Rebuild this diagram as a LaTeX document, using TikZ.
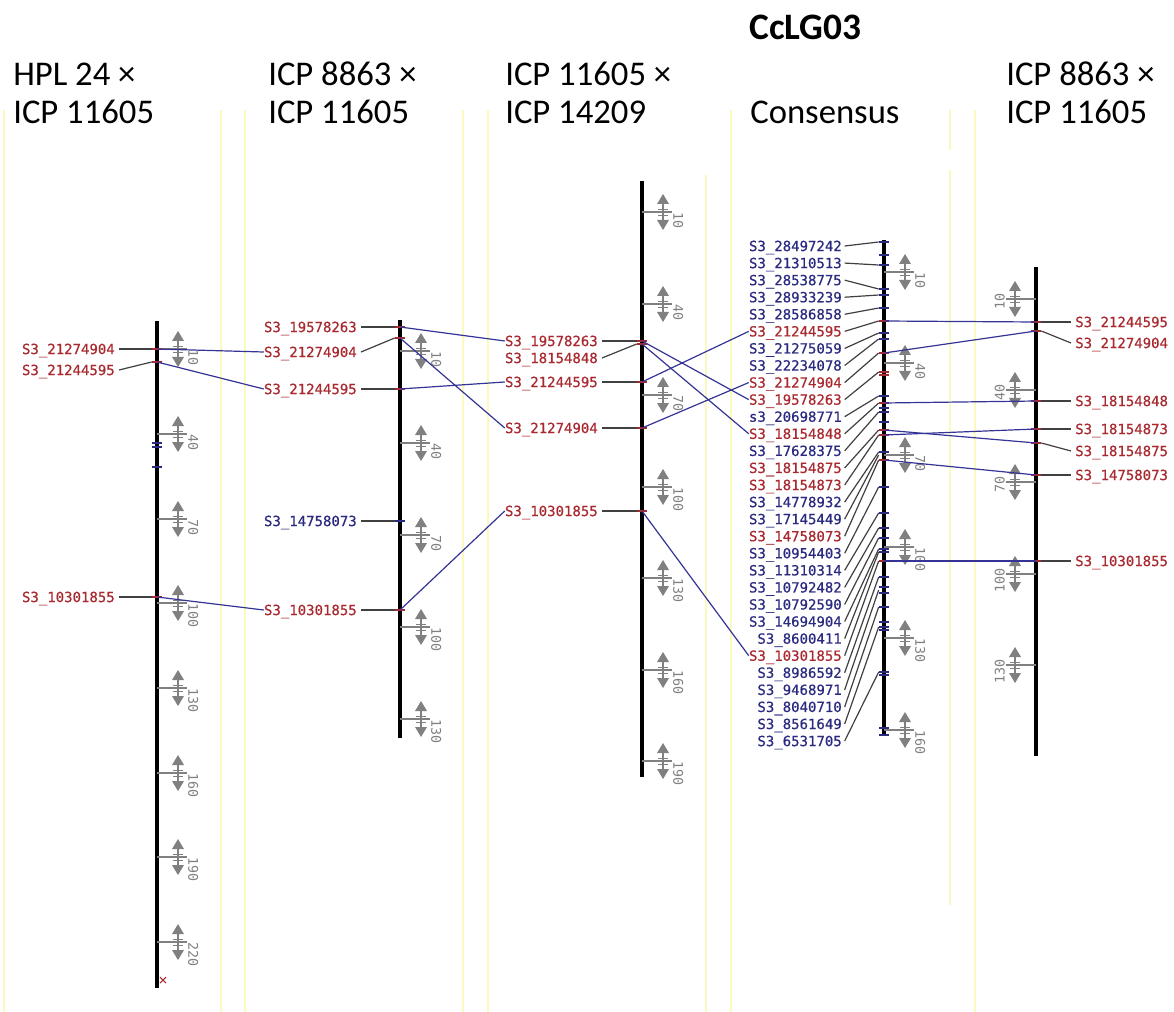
\documentclass[tikz,border=0pt]{standalone}
\usepackage{fontspec}
\setmainfont{Carlito}
\newfontfamily\mapfont[FakeBold=0.6]{DejaVu Sans Mono}
\newfontfamily\cmfont{DejaVu Sans Mono}
\usetikzlibrary{calc}
\definecolor{mkred}{RGB}{168,42,48}
\definecolor{mkblue}{RGB}{42,42,128}
\definecolor{linkblue}{RGB}{52,52,150}
\definecolor{gridyellow}{RGB}{250,250,190}
\definecolor{scalegray}{RGB}{128,128,128}

% scale mark: name, chromosome x, y, label, side (1 = right, -1 = left)
\newcommand{\cmscale}[5]{%
  \begin{scope}[shift={(#2,#3)},xscale=#5]
    \draw[scalegray,line width=1.1pt] (0,0) -- (30,0);
    \fill[scalegray] (15,-8) -- (27,-8) -- (21,-18) -- cycle;
    \fill[scalegray] (15,8) -- (27,8) -- (21,18) -- cycle;
    \draw[scalegray,line width=1.4pt] (21,-8) -- (21,8);
    \draw[scalegray,line width=0.6pt] (16,-3) -- (26,-3) (16,3) -- (26,3);
  \end{scope}
  \ifnum#5>0
    \node[cmlabel,rotate=-90,anchor=south west] (#1) at (#2+31,#3) {#4};
  \else
    \node[cmlabel,rotate=90,anchor=south east] (#1) at (#2-31,#3-6) {#4};
  \fi}

\begin{document}
\begin{tikzpicture}[x=0.75pt,y=-0.75pt,
   mklabel/.style={font=\mapfont\fontsize{10.5}{12}\selectfont,inner sep=0pt,
                   text height=7.6pt,text depth=0pt},
   cmlabel/.style={font=\cmfont\fontsize{10}{10}\selectfont,text=scalegray,inner sep=0pt},
   head/.style={font=\fontsize{26}{30}\selectfont,inner sep=0pt,anchor=base west},
   leader/.style={draw=black!75,line width=0.9pt},
   link/.style={draw=linkblue,line width=0.9pt},
   chrom/.style={draw=black,line width=2.3pt},
   mktick/.style={line width=1.5pt},
   gridline/.style={draw=gridyellow,line width=1.5pt}]
  \useasboundingbox (0,0) rectangle (1174,1012);

  % yellow column guides
  \foreach \x in {4,221,245,463,488,731,975}
    \draw[gridline] (\x,110) -- (\x,1012);
  \draw[gridline] (706,175) -- (706,1012);
  \draw[gridline] (950,110) -- (950,150) (950,170) -- (950,905);

  % headers
  \node[head,font=\bfseries\fontsize{28}{30}\selectfont] (hd-lg) at (749,40) {CcLG03};
  \node[head] (hd-hpl1) at (13,86)   {HPL 24 ×};
  \node[head] (hd-hpl2) at (13,124)  {ICP 11605};
  \node[head] (hd-ia1)  at (268,86)  {ICP 8863 ×};
  \node[head] (hd-ia2)  at (268,124) {ICP 11605};
  \node[head] (hd-ib1)  at (505,86)  {ICP 11605 ×};
  \node[head] (hd-ib2)  at (505,124) {ICP 14209};
  \node[head] (hd-cs)   at (750,124) {Consensus};
  \node[head] (hd-ic1)  at (1006,86) {ICP 8863 ×};
  \node[head] (hd-ic2)  at (1006,124){ICP 11605};

  % HPL 24 x ICP 11605
  \draw[chrom] (157,321) -- (157,988);
  \foreach \n/\cm/\y in {a/10/349,b/40/434,c/70/519,d/100/603,e/130/688,f/160/773,g/190/857,h/220/942}
    \cmscale{hpl-s\n}{157}{\y}{\cm}{1};
  \foreach \y in {443,447,467}
    \draw[mktick,mkblue] (152,\y) -- (162,\y);
  \draw[mkred,line width=0.8pt] (160,977) -- (166,983) (160,983) -- (166,977);
  \foreach \id/\ly/\my/\col in {21274904/349/349/mkred,21244595/370/362/mkred,10301855/597/597/mkred}{
    \coordinate (hpl-m\id) at (157,\my);
    \node[mklabel,text=\col,anchor=east] (hpl-\id) at (115,\ly) {S3\_\id};
    \draw[leader] ([xshift=3pt]hpl-\id.east) -- ([xshift=-4pt]hpl-m\id);
    \draw[mktick,\col] ([xshift=-4pt]hpl-m\id) -- ([xshift=4pt]hpl-m\id);
  }

  % ICP 8863 x ICP 11605
  \draw[chrom] (400,320) -- (400,738);
  \foreach \n/\cm/\y in {a/10/351,b/40/443,c/70/535,d/100/627,e/130/719}
    \cmscale{ia-s\n}{400}{\y}{\cm}{1};
  \foreach \id/\ly/\my/\col in {19578263/327/327/mkred,21274904/352/338/mkred,21244595/389/389/mkred,
                                14758073/521/521/mkblue,10301855/610/610/mkred}{
    \coordinate (ia-m\id) at (400,\my);
    \node[mklabel,text=\col,anchor=east] (ia-\id) at (357,\ly) {S3\_\id};
    \draw[leader] ([xshift=3pt]ia-\id.east) -- ([xshift=-4pt]ia-m\id);
    \draw[mktick,\col] ([xshift=-4pt]ia-m\id) -- ([xshift=4pt]ia-m\id);
  }

  % ICP 11605 x ICP 14209
  \draw[chrom] (642,181) -- (642,777);
  \foreach \n/\cm/\y in {a/10/212,b/40/304,c/70/395,d/100/487,e/130/578,f/160/670,g/190/761}
    \cmscale{ib-s\n}{642}{\y}{\cm}{1};
  \foreach \id/\ly/\my/\col in {19578263/341/341/mkred,18154848/358/344/mkred,21244595/382/382/mkred,
                                21274904/428/428/mkred,10301855/511/511/mkred}{
    \coordinate (ib-m\id) at (642,\my);
    \node[mklabel,text=\col,anchor=east] (ib-\id) at (598,\ly) {S3\_\id};
    \draw[leader] ([xshift=3pt]ib-\id.east) -- ([xshift=-4pt]ib-m\id);
    \draw[mktick,\col] ([xshift=-4pt]ib-m\id) -- ([xshift=4pt]ib-m\id);
  }

  % Consensus
  \draw[chrom] (884,240) -- (884,735);
  \foreach \n/\cm/\y in {a/10/272,b/40/363,c/70/455,d/100/547,e/130/638,f/160/730}
    \cmscale{cs-s\n}{884}{\y}{\cm}{1};
  \foreach \y in {242,255,265,289,295,308,333,339,396,408,412,422,452,487,513,528,538,549,552,
                  577,587,593,607,622,627,630,672,675,728,735}
    \draw[mktick,mkblue] (879,\y) -- (889,\y);
  \foreach \y in {321,353,372,375,403,430,435,460,561}
    \draw[mktick,mkred] (879,\y) -- (889,\y);
  \foreach [evaluate=\i as \ly using 246+17.07*(\i-1)]
     \i/\id/\txt/\my/\col in {
      1/28497242/S3\_28497242/242/mkblue, 2/21310513/S3\_21310513/265/mkblue,
      3/28538775/S3\_28538775/289/mkblue, 4/28933239/S3\_28933239/295/mkblue,
      5/28586858/S3\_28586858/308/mkblue, 6/21244595/S3\_21244595/321/mkred,
      7/21275059/S3\_21275059/333/mkblue, 8/22234078/S3\_22234078/339/mkblue,
      9/21274904/S3\_21274904/353/mkred, 10/19578263/S3\_19578263/372/mkred,
      11/20698771/s3\_20698771/396/mkblue, 12/18154848/S3\_18154848/403/mkred,
      13/17628375/S3\_17628375/412/mkblue, 14/18154875/S3\_18154875/430/mkred,
      15/18154873/S3\_18154873/435/mkred, 16/14778932/S3\_14778932/452/mkblue,
      17/17145449/S3\_17145449/455/mkblue, 18/14758073/S3\_14758073/460/mkred,
      19/10954403/S3\_10954403/487/mkblue, 20/11310314/S3\_11310314/513/mkblue,
      21/10792482/S3\_10792482/528/mkblue, 22/10792590/S3\_10792590/538/mkblue,
      23/14694904/S3\_14694904/549/mkblue, 24/8600411/S3\_8600411/552/mkblue,
      25/10301855/S3\_10301855/561/mkred, 26/8986592/S3\_8986592/577/mkblue,
      27/9468971/S3\_9468971/590/mkblue, 28/8040710/S3\_8040710/607/mkblue,
      29/8561649/S3\_8561649/627/mkblue, 30/6531705/S3\_6531705/672/mkblue}{
    \coordinate (cs-m\id) at (884,\my);
    \node[mklabel,text=\col,anchor=east] (cs-\id) at (842,\ly) {\txt};
    \draw[leader] ([xshift=2pt]cs-\id.east) -- ([xshift=-4pt]cs-m\id);
  }

  % ICP 8863 x ICP 11605 (right)
  \draw[chrom] (1036,267) -- (1036,756);
  \foreach \n/\cm/\y in {a/10/299,b/40/390,c/70/482,d/100/574,e/130/665}
    \cmscale{ic-s\n}{1036}{\y}{\cm}{-1};
  \foreach \id/\ly/\my in {21244595/322/322,21274904/343/331,18154848/401/401,18154873/429/429,
                           18154875/451/443,14758073/475/475,10301855/561/561}{
    \coordinate (ic-m\id) at (1036,\my);
    \node[mklabel,text=mkred,anchor=west] (ic-\id) at (1075,\ly) {S3\_\id};
    \draw[leader] ([xshift=-3pt]ic-\id.west) -- ([xshift=4pt]ic-m\id);
    \draw[mktick,mkred] ([xshift=-4pt]ic-m\id) -- ([xshift=4pt]ic-m\id);
  }

  % links between maps
  \foreach \id in {21274904,21244595,10301855}
    \draw[link] (hpl-m\id) -- (ia-\id.west);
  \foreach \id in {19578263,21274904,21244595,10301855}
    \draw[link] (ia-m\id) -- (ib-\id.west);
  \foreach \id in {19578263,18154848,21244595,21274904,10301855}
    \draw[link] (ib-m\id) -- (cs-\id.west);
  \foreach \id in {21244595,21274904,18154848,18154873,18154875,14758073,10301855}
    \draw[link] (cs-m\id) -- (ic-m\id);
\end{tikzpicture}
\end{document}
